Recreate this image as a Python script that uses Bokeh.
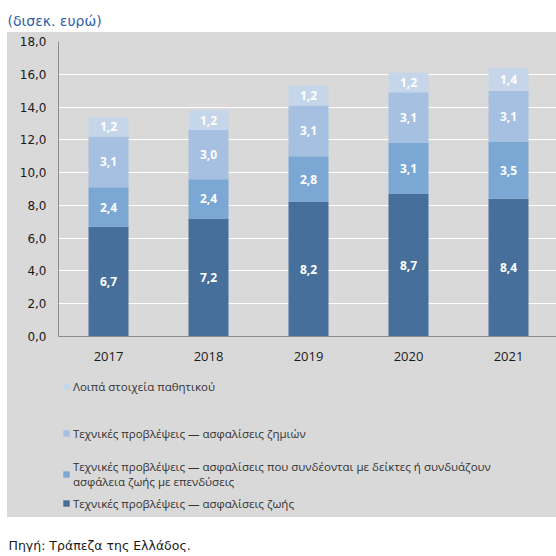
import numpy as np
from bokeh.plotting import figure
from bokeh.models import (Range1d, FixedTicker, Legend, LegendItem, Title,
                          ColumnDataSource, CustomJSTickFormatter)
from bokeh.layouts import column
from bokeh.embed import file_html
from bokeh.resources import INLINE
from bokeh.core.properties import value

# ---------------- data ----------------
years = ["2017", "2018", "2019", "2020", "2021"]
life = [6.7, 7.2, 8.2, 8.7, 8.4]
unit_linked = [2.4, 2.4, 2.8, 3.1, 3.5]
non_life = [3.1, 3.0, 3.1, 3.1, 3.1]
other = [1.2, 1.2, 1.2, 1.2, 1.4]
series_names = [
    "Τεχνικές προβλέψεις — ασφαλίσεις ζωής",
    "Τεχνικές προβλέψεις — ασφαλίσεις που συνδέονται με δείκτες ή συνδυάζουν\nασφάλεια ζωής με επενδύσεις",
    "Τεχνικές προβλέψεις — ασφαλίσεις ζημιών",
    "Λοιπά στοιχεία παθητικού",
]
y_ticks = [0, 2, 4, 6, 8, 10, 12, 14, 16, 18]
title_text = "(δισεκ. ευρώ)"
source_text = "Πηγή: Τράπεζα της Ελλάδος."

colors = ["#46709B", "#7BA7D5", "#A5C0E0", "#C6D6EA"]
GRAY = "#D9D9D9"
W = 556
panel_css = {"background": "linear-gradient(to right, #FFFFFF 7px, #D9D9D9 7px)"}
main_css = {"background": "linear-gradient(to bottom, #FFFFFF 4px, rgba(255,255,255,0) 4px), "
                          "linear-gradient(to right, #FFFFFF 7px, #D9D9D9 7px)"}

# ---------------- title strip ----------------
top = figure(width=W, height=28, x_range=(0, 1), y_range=(0, 1),
             toolbar_location=None, output_backend="svg",
             x_axis_type=None, y_axis_type=None, min_border=0,
             outline_line_color=None)
top.add_layout(Title(text=title_text, align="left", offset=-51, standoff=0,
                     text_font="DejaVu Sans", text_font_size="14px",
                     text_font_style="normal", text_color="#2E5FA6"), "below")

# ---------------- main chart ----------------
xs = [i + 0.5 for i in range(len(years))]
src = ColumnDataSource(dict(x=xs, life=life, unit=unit_linked,
                            nonlife=non_life, other=other))

p = figure(width=W, height=342,
           x_range=Range1d(0, 4.98), y_range=Range1d(0, 18),
           toolbar_location=None, output_backend="svg",
           min_border_left=58, min_border_right=0, min_border_top=13,
           min_border_bottom=34, background_fill_color=GRAY,
           border_fill_alpha=0, outline_line_color=None, styles=main_css)

rs = p.vbar_stack(["life", "unit", "nonlife", "other"], x="x", width=0.4,
                  fill_color=colors, line_color=None, source=src)

lx, ly, lt = [], [], []
base = [0.0] * len(years)
for vals in [life, unit_linked, non_life, other]:
    for i, v in enumerate(vals):
        lx.append(xs[i])
        ly.append(base[i] + v / 2)
        lt.append(f"{v:.1f}".replace(".", ","))
    base = [b + v for b, v in zip(base, vals)]
p.text(x=lx, y=ly, text=lt, text_align="center", text_baseline="middle",
       text_color="white", text_font=value("Open Sans"),
       text_font_style="bold", text_font_size="12px")

p.yaxis.ticker = FixedTicker(ticks=y_ticks)
p.yaxis.formatter = CustomJSTickFormatter(code="return tick.toFixed(1).replace('.', ',');")
p.xaxis.ticker = FixedTicker(ticks=xs)
p.xaxis.major_label_overrides = {x: y for x, y in zip(xs, years)}

for ax in (p.xaxis, p.yaxis):
    ax.axis_line_color = "#8C8C8C"
    ax.major_tick_line_color = None
    ax.minor_tick_line_color = None
    ax.major_tick_out = 0
    ax.major_tick_in = 0
    ax.major_label_text_color = "#1A1A1A"
p.yaxis.major_label_text_font = "DejaVu Sans"
p.yaxis.major_label_text_font_size = "12px"
p.yaxis.major_label_standoff = 12
p.xaxis.major_label_text_font = "Open Sans"
p.xaxis.major_label_text_font_size = "13px"
p.xaxis.major_label_standoff = 15

p.xgrid.grid_line_color = None
p.ygrid.grid_line_color = "white"
p.ygrid.grid_line_width = 1

# ---------------- legend strip ----------------
lg = figure(width=W, height=147, x_range=(0, 1), y_range=(0, 1),
            toolbar_location=None, output_backend="svg",
            x_axis_type=None, y_axis_type=None, min_border=0,
            outline_line_color=None, background_fill_alpha=0,
            border_fill_alpha=0, styles=panel_css)
nan = np.array([np.nan])
proxies = [lg.quad(left=nan, right=nan, top=nan, bottom=nan, fill_color=c,
                   line_color=None) for c in colors]

leg_style = dict(background_fill_alpha=0, border_line_color=None, padding=0,
                 margin=0, glyph_height=8, glyph_width=8, label_standoff=3,
                 label_text_font="Open Sans", label_text_font_size="11.5px",
                 label_text_line_height=1.4, label_height=16,
                 label_text_color="#333333", orientation="vertical")

legA = Legend(items=[LegendItem(label=series_names[3], renderers=[proxies[3]]),
                     LegendItem(label=series_names[2], renderers=[proxies[2]])],
              spacing=31, location=(4, 76), **leg_style)
legB = Legend(items=[LegendItem(label=series_names[1], renderers=[proxies[1]]),
                     LegendItem(label=series_names[0], renderers=[proxies[0]])],
              spacing=6, location=(4, 6), **leg_style)
lg.add_layout(legA)
lg.add_layout(legB)

# ---------------- source strip ----------------
bot = figure(width=W, height=35, x_range=(0, 1), y_range=(0, 1),
             toolbar_location=None, output_backend="svg",
             x_axis_type=None, y_axis_type=None, min_border=0,
             outline_line_color=None)
bot.add_layout(Title(text=source_text, align="left", offset=-50, standoff=0,
                     text_font="DejaVu Sans", text_font_size="12.5px",
                     text_font_style="normal", text_color="#1A1A1A"), "below")

layout = column(top, p, lg, bot, spacing=0)
open("out.html", "w").write(file_html(layout, INLINE))
